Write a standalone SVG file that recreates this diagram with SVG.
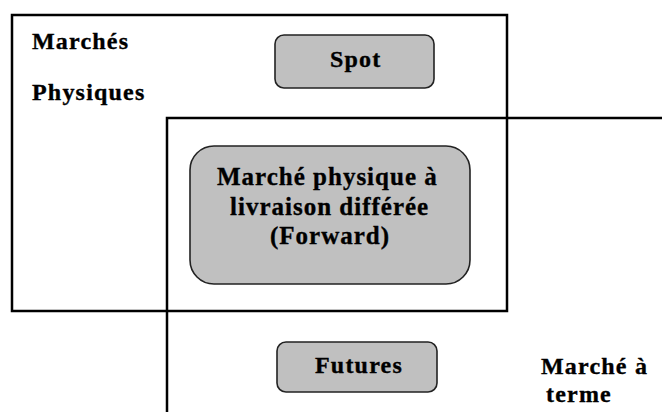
<svg xmlns="http://www.w3.org/2000/svg" width="662" height="412" viewBox="0 0 662 412">
<style>
  .frame { fill: none; stroke: #000; stroke-width: 2.5; }
  .box { fill: #c0c0c0; stroke: #222; stroke-width: 1.6; }
  .t { font-family: "Liberation Serif", "Times New Roman", serif; font-weight: bold; font-size: 24px; fill: #000; stroke: #000; stroke-width: 0.35; letter-spacing: 1.2px; }
  .tf { font-size: 25px; letter-spacing: 1px; }
</style>
<rect width="662" height="412" fill="#fff"/>
<g id="marches-physiques">
  <rect class="frame" x="12" y="15" width="495" height="296"/>
  <text class="t" x="32" y="48.5">Marchés</text>
  <text class="t" x="32" y="99.5">Physiques</text>
</g>
<g id="marche-a-terme">
  <path class="frame" d="M167 412 V118 H662"/>
  <text class="t" x="541" y="373.5" letter-spacing="1.5">Marché  à</text>
  <text class="t" x="546" y="401.5">terme</text>
</g>
<g id="spot">
  <rect class="box" x="275" y="35" width="159" height="53" rx="9"/>
  <text class="t" x="330" y="66.5" letter-spacing="0.5">Spot</text>
</g>
<g id="forward">
  <rect class="box" x="190" y="146" width="280" height="138" rx="24"/>
  <text class="t tf" x="217" y="185">Marché physique à</text>
  <text class="t tf" x="230" y="214.5">livraison différée</text>
  <text class="t tf" x="270" y="244">(Forward)</text>
</g>
<g id="futures">
  <rect class="box" x="277" y="342" width="160" height="50" rx="9"/>
  <text class="t" x="315" y="372.5" letter-spacing="0.3">Futures</text>
</g>
<g id="connectors"></g>
</svg>
